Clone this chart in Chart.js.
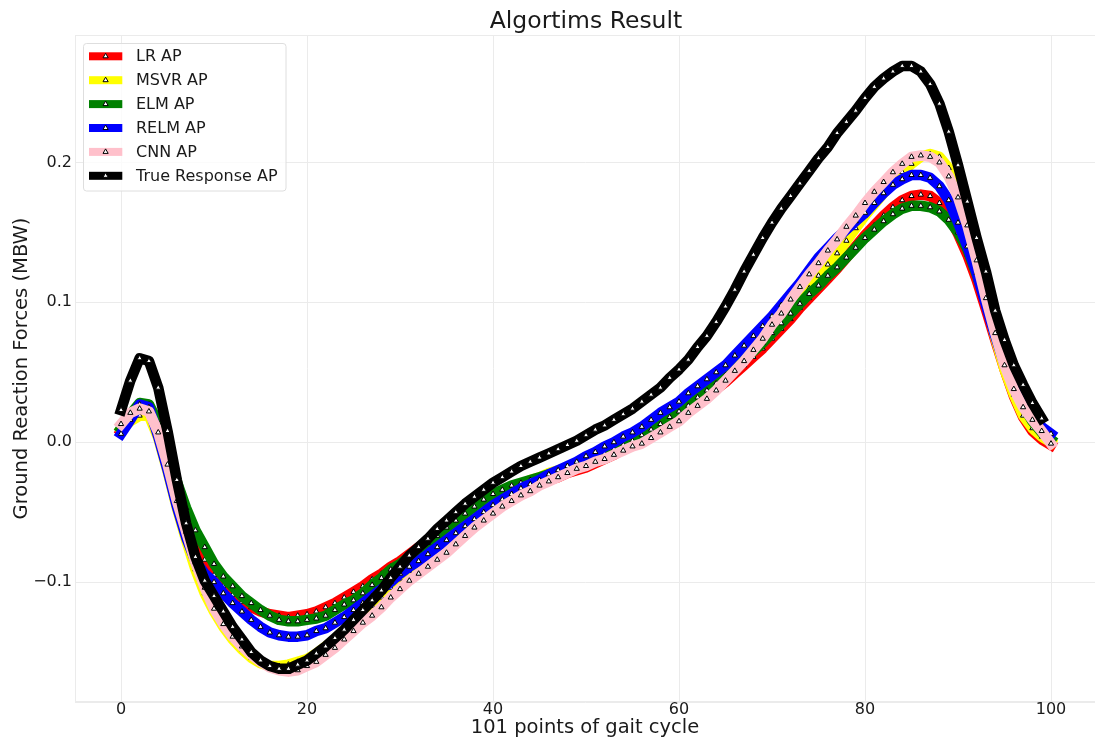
<!DOCTYPE html>
<html>
<head>
<meta charset="utf-8">
<title>Algortims Result</title>
<script src="https://cdn.jsdelivr.net/npm/chart.js@4.4.1/dist/chart.umd.min.js"></script>
<style>
  html, body { margin: 0; padding: 0; background: #fff; }
  #chart { display: block; }
</style>
</head>
<body>
<canvas id="chart" width="1095" height="740"></canvas>
<script>
// 101 samples of the gait cycle
const gaitPoints = Array.from({ length: 101 }, (_, i) => i);

const lrAP = [
  0.008, 0.018, 0.027, 0.025, 0.010, -0.010, -0.033, -0.054, -0.071, -0.084,
  -0.095, -0.103, -0.109, -0.114, -0.118, -0.121, -0.123, -0.124, -0.125, -0.124,
  -0.123, -0.121, -0.118, -0.115, -0.111, -0.107, -0.103, -0.098, -0.094, -0.089,
  -0.085, -0.080, -0.075, -0.071, -0.067, -0.063, -0.058, -0.054, -0.050, -0.046,
  -0.042, -0.039, -0.036, -0.034, -0.032, -0.030, -0.027, -0.025, -0.022, -0.020,
  -0.018, -0.015, -0.012, -0.009, -0.005, -0.002, 0.002, 0.006, 0.010, 0.014,
  0.019, 0.023, 0.028, 0.033, 0.038, 0.043, 0.049, 0.055, 0.061, 0.067,
  0.074, 0.081, 0.088, 0.096, 0.103, 0.110, 0.117, 0.124, 0.132, 0.140,
  0.148, 0.155, 0.162, 0.168, 0.173, 0.176, 0.177, 0.176, 0.171, 0.162,
  0.149, 0.134, 0.116, 0.095, 0.073, 0.052, 0.033, 0.018, 0.008, 0.002,
  -0.002
];

const msvrAP = [
  0.009, 0.015, 0.019, 0.019, 0.003, -0.021, -0.047, -0.070, -0.091, -0.108,
  -0.121, -0.132, -0.141, -0.148, -0.154, -0.158, -0.160, -0.160, -0.159, -0.157,
  -0.155, -0.151, -0.146, -0.141, -0.136, -0.130, -0.124, -0.117, -0.111, -0.104,
  -0.098, -0.092, -0.086, -0.079, -0.072, -0.065, -0.059, -0.054, -0.049, -0.044,
  -0.040, -0.036, -0.033, -0.030, -0.027, -0.025, -0.022, -0.020, -0.018, -0.015,
  -0.013, -0.010, -0.007, -0.004, -0.001, 0.003, 0.007, 0.011, 0.016, 0.020,
  0.025, 0.029, 0.033, 0.038, 0.043, 0.049, 0.055, 0.061, 0.068, 0.075,
  0.082, 0.088, 0.094, 0.101, 0.110, 0.119, 0.127, 0.135, 0.144, 0.153,
  0.162, 0.170, 0.178, 0.186, 0.193, 0.199, 0.204, 0.206, 0.204, 0.196,
  0.181, 0.158, 0.130, 0.102, 0.075, 0.052, 0.034, 0.019, 0.010, 0.004,
  0.000
];

const elmAP = [
  0.010, 0.020, 0.028, 0.027, 0.014, -0.006, -0.028, -0.047, -0.063, -0.075,
  -0.087, -0.096, -0.103, -0.110, -0.115, -0.120, -0.124, -0.127, -0.128, -0.128,
  -0.127, -0.126, -0.124, -0.120, -0.116, -0.113, -0.108, -0.102, -0.097, -0.091,
  -0.087, -0.082, -0.077, -0.072, -0.067, -0.061, -0.056, -0.051, -0.046, -0.041,
  -0.037, -0.034, -0.031, -0.029, -0.027, -0.025, -0.023, -0.021, -0.019, -0.016,
  -0.014, -0.011, -0.008, -0.005, -0.002, 0.001, 0.005, 0.009, 0.013, 0.018,
  0.022, 0.026, 0.032, 0.037, 0.042, 0.048, 0.054, 0.060, 0.065, 0.071,
  0.078, 0.085, 0.092, 0.099, 0.106, 0.112, 0.119, 0.125, 0.132, 0.139,
  0.146, 0.152, 0.158, 0.163, 0.167, 0.169, 0.169, 0.168, 0.165, 0.159,
  0.150, 0.138, 0.120, 0.100, 0.079, 0.059, 0.041, 0.026, 0.015, 0.007,
  0.002
];

const relmAP = [
  0.006, 0.016, 0.027, 0.025, 0.004, -0.020, -0.046, -0.068, -0.085, -0.094,
  -0.100, -0.108, -0.115, -0.121, -0.127, -0.132, -0.136, -0.138, -0.139, -0.139,
  -0.138, -0.135, -0.133, -0.129, -0.125, -0.120, -0.115, -0.110, -0.105, -0.100,
  -0.094, -0.089, -0.085, -0.080, -0.075, -0.070, -0.065, -0.060, -0.055, -0.050,
  -0.045, -0.041, -0.037, -0.033, -0.030, -0.027, -0.023, -0.020, -0.017, -0.014,
  -0.010, -0.007, -0.003, 0.000, 0.004, 0.007, 0.011, 0.016, 0.021, 0.025,
  0.029, 0.035, 0.040, 0.045, 0.050, 0.055, 0.062, 0.069, 0.076, 0.083,
  0.090, 0.098, 0.106, 0.114, 0.123, 0.132, 0.139, 0.146, 0.152, 0.158,
  0.164, 0.171, 0.178, 0.184, 0.188, 0.191, 0.191, 0.189, 0.183, 0.173,
  0.157, 0.140, 0.121, 0.098, 0.076, 0.056, 0.040, 0.027, 0.018, 0.011,
  0.006
];

const cnnAP = [
  0.013, 0.021, 0.024, 0.022, 0.007, -0.016, -0.042, -0.064, -0.086, -0.104,
  -0.119, -0.130, -0.139, -0.146, -0.152, -0.157, -0.161, -0.163, -0.164, -0.163,
  -0.160, -0.157, -0.152, -0.147, -0.141, -0.135, -0.129, -0.124, -0.118, -0.111,
  -0.105, -0.099, -0.094, -0.089, -0.084, -0.079, -0.073, -0.067, -0.061, -0.056,
  -0.051, -0.046, -0.042, -0.038, -0.035, -0.031, -0.028, -0.025, -0.022, -0.019,
  -0.017, -0.014, -0.012, -0.009, -0.006, -0.003, -0.001, 0.003, 0.007, 0.011,
  0.015, 0.021, 0.026, 0.031, 0.037, 0.044, 0.051, 0.058, 0.066, 0.074,
  0.084, 0.092, 0.102, 0.111, 0.120, 0.128, 0.137, 0.145, 0.154, 0.162,
  0.171, 0.179, 0.186, 0.193, 0.199, 0.204, 0.205, 0.204, 0.200, 0.190,
  0.175, 0.155, 0.130, 0.103, 0.078, 0.055, 0.038, 0.025, 0.016, 0.008,
  -0.001
];

// measured response stops one sample early (0..99)
const trueAP = [
  0.023, 0.044, 0.060, 0.058, 0.039, 0.008, -0.027, -0.058, -0.082, -0.099,
  -0.110, -0.121, -0.132, -0.141, -0.150, -0.156, -0.160, -0.162, -0.162, -0.159,
  -0.156, -0.151, -0.146, -0.140, -0.134, -0.127, -0.120, -0.113, -0.106, -0.097,
  -0.089, -0.081, -0.075, -0.069, -0.062, -0.056, -0.050, -0.044, -0.039, -0.034,
  -0.029, -0.025, -0.021, -0.017, -0.014, -0.011, -0.008, -0.005, -0.002, 0.001,
  0.005, 0.009, 0.012, 0.016, 0.020, 0.024, 0.029, 0.034, 0.039, 0.046,
  0.052, 0.059, 0.068, 0.076, 0.086, 0.097, 0.109, 0.122, 0.134, 0.146,
  0.157, 0.167, 0.176, 0.185, 0.194, 0.203, 0.211, 0.221, 0.229, 0.237,
  0.246, 0.254, 0.260, 0.265, 0.269, 0.269, 0.265, 0.256, 0.242, 0.222,
  0.198, 0.172, 0.146, 0.122, 0.094, 0.073, 0.055, 0.041, 0.028, 0.017
];

const seriesNames = ['LR AP', 'MSVR AP', 'ELM AP', 'RELM AP', 'CNN AP', 'True Response AP'];
const seriesColors = ['red', 'yellow', 'green', 'blue', 'pink', 'black'];
const seriesValues = [lrAP, msvrAP, elmAP, relmAP, cnnAP, trueAP];

const xTicks = [0, 20, 40, 60, 80, 100];
const yTicks = [-0.1, 0.0, 0.1, 0.2];

const chartTitle = 'Algortims Result';
const gridColor = '#ebebeb';
const textColor = '#1a1a1a';

Chart.defaults.font.family = "'DejaVu Sans', sans-serif";
Chart.defaults.color = textColor;

const datasets = seriesValues.map((vals, k) => ({
  label: seriesNames[k],
  data: vals.map((v, i) => ({ x: gaitPoints[i], y: v })),
  borderColor: seriesColors[k],
  backgroundColor: seriesColors[k],
  borderWidth: 10.5,
  borderJoinStyle: 'round',
  borderCapStyle: 'square',
  tension: 0,
  fill: false,
  pointStyle: 'triangle',
  pointRadius: 3,
  pointBorderWidth: 1,
  pointBackgroundColor: 'white',
  pointBorderColor: 'black',
  order: seriesValues.length - k   // last series drawn on top
}));

// light frame around the plot area + title centred over the axes
const plotFrame = {
  id: 'plotFrame',
  beforeDatasetsDraw(chart) {
    const { ctx, chartArea: a } = chart;
    ctx.save();
    ctx.strokeStyle = gridColor;
    ctx.lineWidth = 1;
    ctx.strokeRect(a.left + 0.5, a.top + 0.5, a.right - a.left, a.bottom - a.top - 1);
    ctx.fillStyle = textColor;
    ctx.font = "23.5px 'DejaVu Sans'";
    ctx.textAlign = 'center';
    ctx.textBaseline = 'middle';
    ctx.fillText(chartTitle, (a.left + 1097) / 2, 22);
    ctx.restore();
  }
};

// legend drawn inside the axes, upper left
const legendInside = {
  id: 'legendInside',
  afterDraw(chart) {
    const ctx = chart.ctx;
    const x0 = 83.5, y0 = 43.5, w = 202.5, h = 147.5, r = 3;
    ctx.save();
    ctx.beginPath();
    ctx.moveTo(x0 + r, y0);
    ctx.arcTo(x0 + w, y0, x0 + w, y0 + h, r);
    ctx.arcTo(x0 + w, y0 + h, x0, y0 + h, r);
    ctx.arcTo(x0, y0 + h, x0, y0, r);
    ctx.arcTo(x0, y0, x0 + w, y0, r);
    ctx.closePath();
    ctx.fillStyle = 'rgba(255,255,255,0.8)';
    ctx.fill();
    ctx.strokeStyle = '#dedede';
    ctx.lineWidth = 1;
    ctx.stroke();

    ctx.font = "16px 'DejaVu Sans'";
    ctx.textBaseline = 'middle';
    ctx.textAlign = 'left';
    chart.data.datasets.forEach((ds, k) => {
      const yc = 56.3 + k * 23.9;
      ctx.fillStyle = ds.borderColor;
      ctx.fillRect(89, yc - 4, 33.3, 8);
      // marker
      const mx = 105.6, mr = 3;
      ctx.beginPath();
      for (let j = 0; j < 3; j++) {
        const ang = j * 2 * Math.PI / 3;
        const px = mx + Math.sin(ang) * mr, py = yc - Math.cos(ang) * mr;
        if (j === 0) ctx.moveTo(px, py); else ctx.lineTo(px, py);
      }
      ctx.closePath();
      ctx.fillStyle = 'white';
      ctx.fill();
      ctx.strokeStyle = 'black';
      ctx.stroke();
      ctx.fillStyle = textColor;
      ctx.fillText(ds.label, 136, yc + 1);
    });
    ctx.restore();
  }
};

new Chart(document.getElementById('chart'), {
  type: 'line',
  data: { datasets },
  options: {
    responsive: false,
    animation: false,
    devicePixelRatio: 1,
    events: [],
    layout: { padding: { top: 35, left: 0, right: 0, bottom: 0 }, autoPadding: false },
    plugins: {
      legend: { display: false },
      tooltip: { enabled: false },
      title: { display: false }
    },
    scales: {
      x: {
        type: 'linear',
        min: -4.95,
        max: 104.73,
        afterBuildTicks: (s) => { s.ticks = xTicks.map(v => ({ value: v })); },
        afterFit: (s) => { s.height = 38; },
        grid: { color: gridColor, lineWidth: 1, drawTicks: false },
        border: { display: true, color: gridColor },
        ticks: {
          padding: -2,
          font: { size: 16 },
          color: textColor,
          maxRotation: 0,
          callback: (v) => String(v)
        },
        title: {
          display: true,
          text: '101 points of gait cycle',
          color: textColor,
          font: { size: 19.5 },
          padding: { top: 0, bottom: 0 }
        }
      },
      y: {
        type: 'linear',
        min: -0.1857,
        max: 0.2911,
        afterBuildTicks: (s) => { s.ticks = yTicks.map(v => ({ value: v })); },
        afterFit: (s) => { s.width = 75; },
        grid: { color: gridColor, lineWidth: 1, drawTicks: false },
        border: { display: true, color: gridColor },
        ticks: {
          padding: 3,
          font: { size: 16 },
          color: textColor,
          callback: (v) => v.toFixed(1).replace('-', '\u2212')
        },
        title: {
          display: true,
          text: 'Ground Reaction Forces (MBW)',
          color: textColor,
          font: { size: 19.5 },
          padding: { top: 10, bottom: 0 }
        }
      }
    }
  },
  plugins: [plotFrame, legendInside]
});
</script>
</body>
</html>
